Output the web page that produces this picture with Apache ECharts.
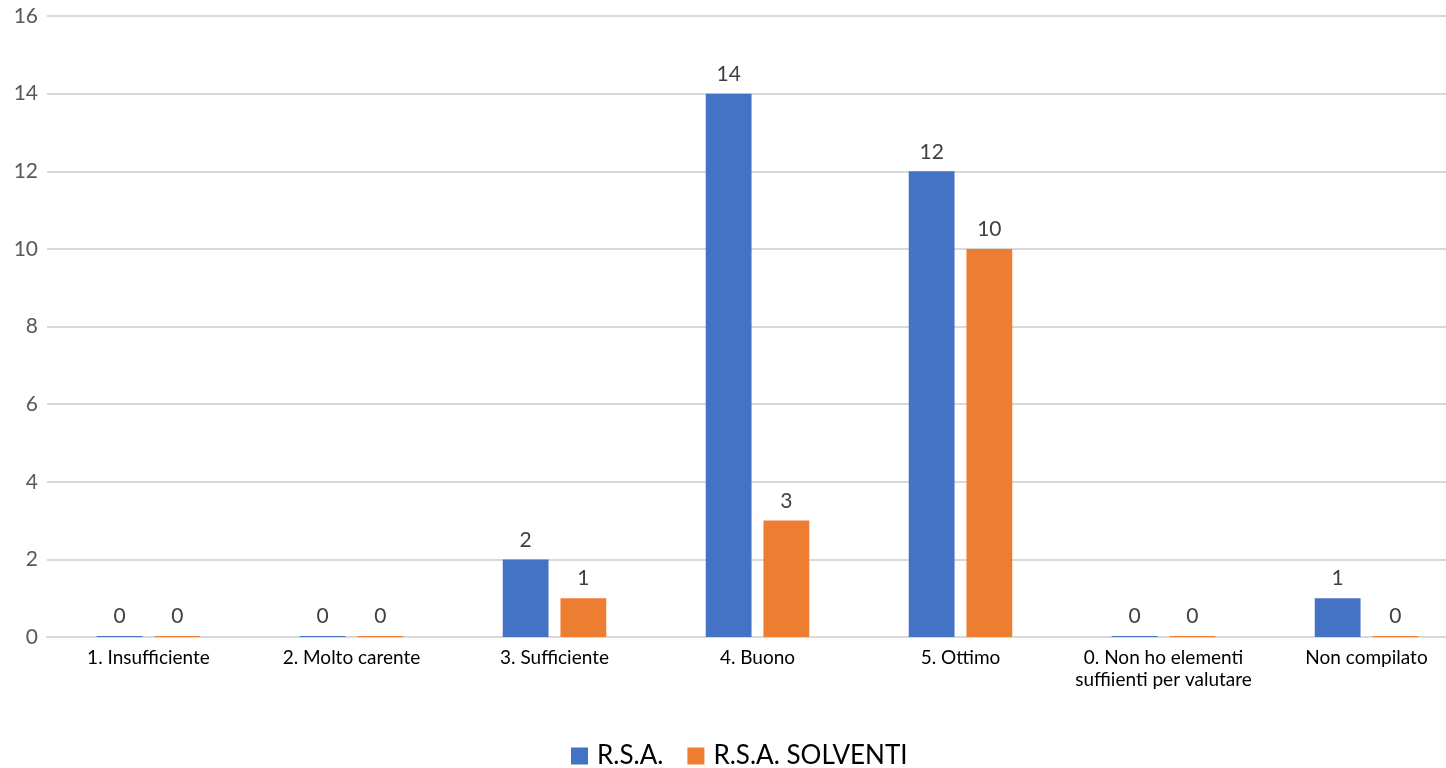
<!DOCTYPE html>
<html><head><meta charset="utf-8">
<script src="https://cdn.jsdelivr.net/npm/echarts@6/dist/echarts.min.js"></script>
<style>html,body{margin:0;padding:0;background:#fff;overflow:hidden}#c{width:1468px;height:768px}</style>
</head><body><div id="c"></div>
<script>
const categories = ["1. Insufficiente","2. Molto carente","3. Sufficiente","4. Buono","5. Ottimo","0. Non ho elementi\nsuffiienti per valutare","Non compilato"];
const seriesNames = ["R.S.A.","R.S.A. SOLVENTI"];
const rsa = [0,0,2,14,12,0,1];
const rsaSolventi = [0,0,1,3,10,0,0];
const yTicks = {min:0,max:16,interval:2};

const font = "Lato, Open Sans, sans-serif";
const chart = echarts.init(document.getElementById('c'), null, {renderer:'canvas'});
const labelCfg = {show:true, position:'top', color:'#404040', fontSize:21, fontFamily:font, distance:9};
chart.setOption({
  animation:false,
  color:['#4472C4','#ED7D31'],
  grid:{left:47, top:16, right:0, height:621},
  legend:{top:738, left:566, itemWidth:17, itemHeight:17, itemGap:24,
    textStyle:{fontSize:26, color:'#000', fontFamily:font, padding:[0,0,0,4]}, data:seriesNames, icon:'rect'},
  xAxis:{type:'category', data:categories,
    axisLine:{lineStyle:{color:'#d9d9d9', width:2}}, axisTick:{show:false},
    axisLabel:{color:'#000', fontSize:19, fontFamily:font, margin:10, lineHeight:22, interval:0}},
  yAxis:{type:'value', min:yTicks.min, max:yTicks.max, interval:yTicks.interval,
    axisLine:{show:false}, axisTick:{show:false},
    splitLine:{lineStyle:{color:'#d9d9d9', width:2}},
    axisLabel:{color:'#595959', fontSize:21, fontFamily:font, margin:9}},
  series:[
    {name:seriesNames[0], type:'bar', data:rsa, barGap:'26%', barCategoryGap:'49%', barMinHeight:1, label:labelCfg},
    {name:seriesNames[1], type:'bar', data:rsaSolventi, barGap:'26%', barCategoryGap:'49%', barMinHeight:1, label:labelCfg}
  ]
});
</script></body></html>
